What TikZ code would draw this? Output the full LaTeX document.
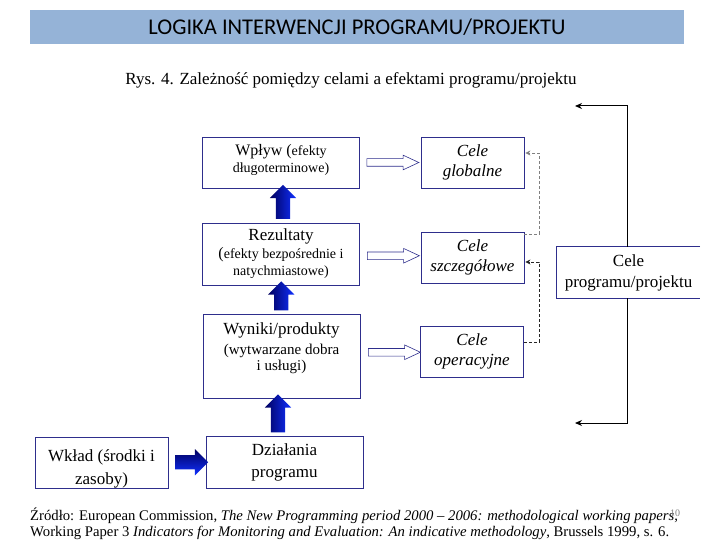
\documentclass[tikz,border=0pt]{standalone}
\usepackage{fontspec}
\setmainfont{Liberation Serif}
\newfontfamily\titlefont{Carlito}
\usepackage{tikz}
\usetikzlibrary{shapes.arrows, arrows.meta, positioning, calc}
\definecolor{barblue}{HTML}{95B3D7}
\definecolor{boxnavy}{HTML}{2E2E8C}
\definecolor{arrowdark}{HTML}{00005E}
\definecolor{arrowlight}{HTML}{1030FF}
\newcommand{\bigtxt}{\fontsize{17}{21}\selectfont}
\newcommand{\smalltxt}{\fontsize{14}{17}\selectfont}

\begin{document}
\begin{tikzpicture}[x=1pt, y=-1pt,
    effectbox/.style={draw=boxnavy, line width=0.8pt, align=center, inner sep=0pt, minimum width=157pt},
    goalbox/.style={draw=boxnavy, line width=0.8pt, align=center, inner sep=0pt, minimum width=103pt, minimum height=51pt, font=\fontsize{17}{20}\selectfont\itshape},
    bluearrow/.style={single arrow, draw=none, inner xsep=0pt, inner ysep=7pt, minimum width=26pt, single arrow head extend=6pt},
    openarrow/.style={single arrow, draw=boxnavy, fill=white, line width=0.6pt, inner xsep=0pt, inner ysep=3.5pt, minimum width=14pt, single arrow head extend=3.5pt, single arrow tip angle=50, minimum height=52pt},
    feedback/.style={dash pattern=on 3pt off 2pt, line width=0.8pt, -{Stealth[length=5pt,width=5pt]}},
]
\useasboundingbox (0,0) rectangle (720,540);

\node[fill=barblue, minimum width=654pt, minimum height=34pt, inner sep=0pt, font=\titlefont\fontsize{22.5}{24}\selectfont] (title) at (357,27) {LOGIKA INTERWENCJI PROGRAMU/PROJEKTU};
\node[font=\fontsize{17}{19}\selectfont] (caption) at (351,80) {Rys. 4. Zależność pomiędzy celami a efektami programu/projektu};

% efekty
\node[effectbox, minimum height=51pt, font=\fontsize{14}{17}\selectfont] (wplyw) at (281,162.5) {\fontsize{16}{17}\selectfont Wpływ (\smalltxt efekty\\\smalltxt długoterminowe)\\[-9pt]\mbox{}};
\node[effectbox, minimum height=62pt, font=\fontsize{14}{17}\selectfont] (rez) at (281,254) {\bigtxt Rezultaty\\[1pt]\fontsize{16}{17}\selectfont(\smalltxt efekty bezpośrednie i\\\smalltxt natychmiastowe)};
\node[effectbox, minimum height=84pt, font=\fontsize{15}{16}\selectfont] (wyn) at (281.5,356) {\bigtxt Wyniki/produkty\\[4pt](wytwarzane dobra\\i usługi)\\[2pt]\mbox{}};
\node[effectbox, minimum height=52pt, font=\fontsize{17}{22}\selectfont] (dzial) at (284.5,462) {Działania\\programu};
\node[effectbox, minimum width=133pt, minimum height=51pt, font=\fontsize{17}{23}\selectfont] (wklad) at (101.5,462.5) {Wkład (środki i\\zasoby)\\[-32pt]\mbox{}};

% cele
\node[goalbox] (cglob) at (472.5,162.5) {Cele\\globalne};
\node[goalbox] (cszcz) at (472.5,257.5) {Cele\\szczegółowe};
\node[goalbox] (coper) at (472,351.5) {Cele\\operacyjne};
\node[align=center, inner sep=0pt, minimum width=143pt, minimum height=51pt, font=\fontsize{17}{21}\selectfont] (cprog) at (628.5,272.5) {Cele\\programu/projektu};
\draw[boxnavy, line width=0.8pt] (cprog.north east) -- (cprog.north west) -- (cprog.south west) -- (cprog.south east);

% strzalki pionowe
\node[bluearrow, rotate=90, minimum height=34pt, left color=arrowdark, right color=arrowlight] (up1) at ($(rez.north)!0.5!(wplyw.south)+(2,0)$) {};
\node[bluearrow, rotate=90, minimum height=29pt, left color=arrowdark, right color=arrowlight] (up2) at ($(wyn.north)!0.5!(rez.south)$) {};
\node[bluearrow, rotate=90, minimum height=38pt, left color=arrowdark, right color=arrowlight] (up3) at ($(dzial.north)!0.5!(wyn.south)-(5,0)$) {};
\node[bluearrow, minimum height=33pt, top color=arrowdark, bottom color=arrowlight] (right1) at ($(wklad.east)!0.5!(dzial.west)+(1,0)$) {};

% strzalki do celow
\node[openarrow] (to1) at ($(wplyw.east)!0.5!(cglob.west)-(1.5,0)$) {};
\node[openarrow] (to2) at ($(rez.east)!0.5!(cszcz.west)-(1,0)$) {};
\node[openarrow] (to3) at ($(wyn.east)!0.5!(coper.west)-(0,1.5)$) {};

% sprzezenia
\draw[feedback, gray] ([yshift=23.5pt]cszcz.east) -- ++(15,0) |- ([xshift=1pt, yshift=9.5pt]cglob.east);
\draw[feedback, black!85] ([yshift=9.5pt]coper.east) -- ++(15,0) |- ([xshift=1pt, yshift=-4.5pt]cszcz.east);

\coordinate (topend) at (575,106);
\coordinate (botend) at (575,423);
\draw[line width=1pt, -{Stealth[length=7pt,width=6pt]}] ([xshift=-1.5pt]cprog.north) |- (topend);
\draw[line width=1pt, -{Stealth[length=7pt,width=6pt]}] ([xshift=-1.5pt]cprog.south) |- (botend);

\node[anchor=north west, align=left, inner sep=0pt, font=\fontsize{14.7}{16}\selectfont] (source) at (30,507.5) {Źródło: European Commission, \textit{The New Programming period 2000 -- 2006: methodological working papers},\\Working Paper 3 \textit{Indicators for Monitoring and Evaluation: An indicative methodology}, Brussels 1999, s. 6.};
\node[gray, font=\fontsize{10}{11}\selectfont, inner sep=0pt] (pagenr) at (675,513) {10};
\end{tikzpicture}
\end{document}
